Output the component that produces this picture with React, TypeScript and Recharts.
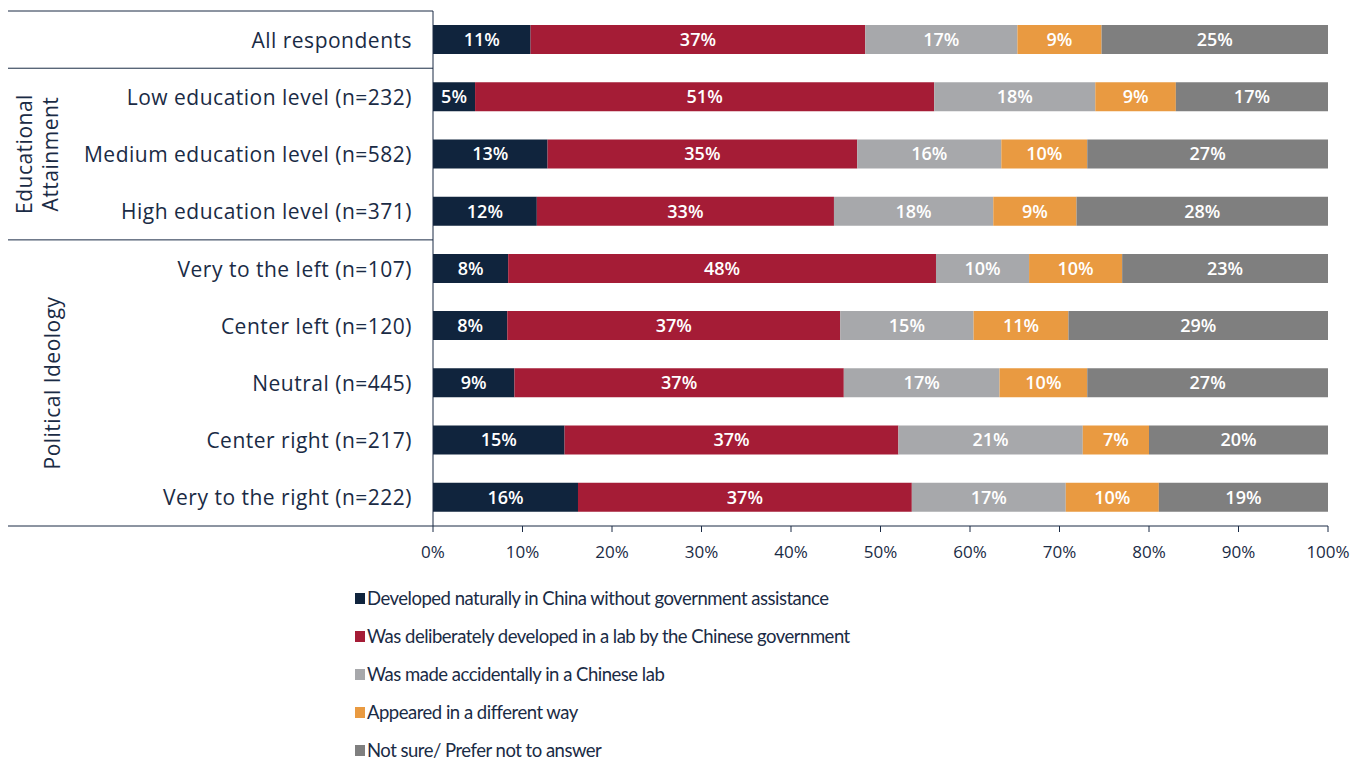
import { BarChart, Bar, XAxis, YAxis, LabelList } from "recharts";

const categories = [
  "All respondents",
  "Low education level (n=232)",
  "Medium education level (n=582)",
  "High education level (n=371)",
  "Very to the left (n=107)",
  "Center left (n=120)",
  "Neutral (n=445)",
  "Center right (n=217)",
  "Very to the right (n=222)",
];

const naturally = [10.9, 4.7, 12.8, 11.6, 8.4, 8.3, 9.1, 14.7, 16.2];
const deliberately = [37.4, 51.3, 34.6, 33.2, 47.8, 37.2, 36.8, 37.3, 37.3];
const accidentally = [17.0, 18.0, 16.1, 17.8, 10.4, 14.9, 17.4, 20.6, 17.2];
const differentWay = [9.4, 9.0, 9.6, 9.3, 10.4, 10.6, 9.8, 7.4, 10.4];
const notSure = [25.3, 17.0, 26.9, 28.1, 23.0, 29.0, 26.9, 20.0, 18.9];

const xTicks = [0, 10, 20, 30, 40, 50, 60, 70, 80, 90, 100];

const series = [
  { key: "naturally", name: "Developed naturally in China without government assistance", color: "#10243d", values: naturally },
  { key: "deliberately", name: "Was deliberately developed in a lab by the Chinese government", color: "#a51c36", values: deliberately },
  { key: "accidentally", name: "Was made accidentally in a Chinese lab", color: "#a7a8ab", values: accidentally },
  { key: "differentWay", name: "Appeared in a different way", color: "#e99a41", values: differentWay },
  { key: "notSure", name: "Not sure/ Prefer not to answer", color: "#7f7f7f", values: notSure },
];

const data = categories.map((name, i) => {
  const row: Record<string, string | number> = { name };
  series.forEach((s) => {
    row[s.key] = s.values[i];
  });
  return row;
});

const NAVY = "#1a2b45";
const FONT = "'Open Sans', sans-serif";
const LEGEND_FONT = "Lato, 'Open Sans', sans-serif";
const AXIS_X = 425;
const PLOT_TOP = 3;
const PLOT_BOTTOM = 518;
const X_AXIS_H = 45;
const BAND = (PLOT_BOTTOM - PLOT_TOP) / categories.length;

// which rows start a new group (line above) and where the rotated group titles sit
const groupStarts = [0, 1, 4];
const groupTitles: Record<number, { lines: string[]; xs: number[] }> = {
  2: { lines: ["Educational", "Attainment"], xs: [16, 42] },
  6: { lines: ["Political Ideology"], xs: [44] },
};

const CategoryTick = (props: any) => {
  const { y, payload, index } = props;
  const title = groupTitles[index];
  return (
    <g>
      <text
        x={AXIS_X - 21}
        y={y}
        textAnchor="end"
        dominantBaseline="central"
        fill={NAVY}
        fontSize={21}
        letterSpacing={0.5}
        fontFamily={FONT}
      >
        {payload.value}
      </text>
      {groupStarts.includes(index) ? (
        <line x1={0} x2={AXIS_X} y1={y - BAND / 2} y2={y - BAND / 2} stroke={NAVY} strokeWidth={1} />
      ) : null}
      {index === categories.length - 1 ? (
        <line x1={0} x2={AXIS_X} y1={y + BAND / 2} y2={y + BAND / 2} stroke={NAVY} strokeWidth={1} />
      ) : null}
      {title
        ? title.lines.map((t, i) => (
            <text
              key={t}
              x={title.xs[i]}
              y={y}
              transform={`rotate(-90, ${title.xs[i]}, ${y})`}
              textAnchor="middle"
              dominantBaseline="central"
              fill={NAVY}
              fontSize={21}
              letterSpacing={0.5}
              fontFamily={FONT}
            >
              {t}
            </text>
          ))
        : null}
    </g>
  );
};

const App = () => {
  return (
    <div style={{ position: "relative", width: 1350, height: 754 }}>
      <BarChart
        width={1345}
        height={PLOT_BOTTOM + X_AXIS_H}
        data={data}
        layout="vertical"
        margin={{ top: PLOT_TOP, right: 25, left: 0, bottom: 0 }}
        barSize={29}
      >
        <XAxis
          type="number"
          domain={[0, 100]}
          ticks={xTicks}
          tickFormatter={(v) => `${v}%`}
          axisLine={{ stroke: NAVY }}
          tickLine={{ stroke: NAVY }}
          tickSize={6}
          tickMargin={14}
          tick={{ fill: NAVY, fontSize: 17, fontFamily: FONT }}
          height={X_AXIS_H}
        />
        <YAxis
          type="category"
          dataKey="name"
          width={AXIS_X}
          axisLine={{ stroke: NAVY }}
          tickLine={false}
          tick={<CategoryTick />}
          interval={0}
        />
        {series.map((s) => (
          <Bar key={s.key} dataKey={s.key} stackId="a" fill={s.color} isAnimationActive={false}>
            <LabelList
              dataKey={s.key}
              position="center"
              formatter={(v: any) => `${Math.round(Number(v))}%`}
              fill="#ffffff"
              fontSize={18}
              fontWeight={600}
              fontFamily={FONT}
            />
          </Bar>
        ))}
      </BarChart>

      <div
        style={{
          position: "absolute",
          left: 347,
          top: 571,
          fontFamily: LEGEND_FONT,
          color: NAVY,
          fontSize: 18.5,
          letterSpacing: -0.5,
        }}
      >
        {series.map((s) => (
          <div key={s.key} style={{ display: "flex", alignItems: "center", height: 38 }}>
            <span style={{ display: "inline-block", width: 10, height: 11, background: s.color, marginRight: 2 }} />
            <span>{s.name}</span>
          </div>
        ))}
      </div>
    </div>
  );
};

export default App;
